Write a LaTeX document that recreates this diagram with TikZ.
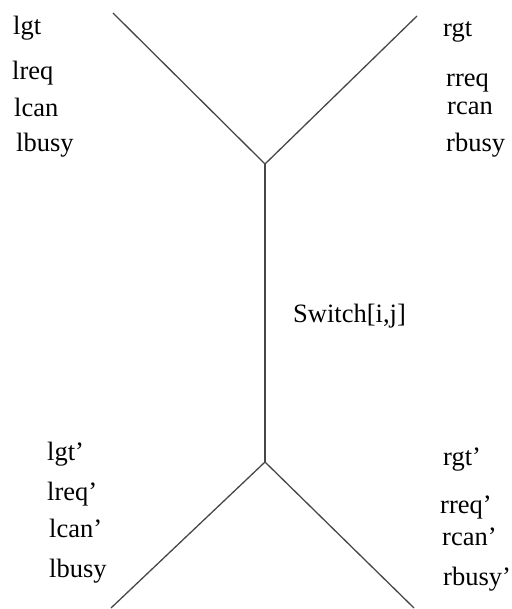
\documentclass[tikz,border=0pt]{standalone}
\usepackage{fontspec}
\setmainfont{LiberationSerif}[Extension=.ttf,UprightFont=*-Regular,Ligatures=TeX]
\begin{document}
\begin{tikzpicture}[x=1pt,y=-1pt,
  sig/.style={anchor=base west,inner sep=0pt,font=\fontsize{26.5}{30}\selectfont},
  wire/.style={draw=black!72,line width=1.3pt}]
\useasboundingbox (0,0) rectangle (511,609);
% junction points and wire ends
\coordinate (jt) at (265,164);
\coordinate (jb) at (265,462);
\coordinate (tl) at (113,13);
\coordinate (tr) at (417,16);
\coordinate (bl) at (111,608);
\coordinate (br) at (414,608);
% wires
\draw[wire] (tl) -- (jt) -- (tr);
\draw[wire] (jt) -- (jb);
\draw[wire] (bl) -- (jb) -- (br);
% upper signals
\node[sig] (lgt) at (13,35) {lgt};
\node[sig] (lreq) at (12,80) {lreq};
\node[sig] (lcan) at (14,117) {lcan};
\node[sig] (lbusy) at (16,152) {lbusy};
\node[sig] (rgt) at (443,37) {rgt};
\node[sig] (rreq) at (446,87) {rreq};
\node[sig] (rcan) at (447,115) {rcan};
\node[sig] (rbusy) at (446,152) {rbusy};
% switch label
\node[sig] (sw) at (293,322) {Switch[i,j]};
% lower signals
\node[sig] (lgt2) at (47,460) {lgt'};
\node[sig] (lreq2) at (47,500) {lreq'};
\node[sig] (lcan2) at (49,537) {lcan'};
\node[sig] (lbusy2) at (49,577) {lbusy};
\node[sig] (rgt2) at (443,465) {rgt'};
\node[sig] (rreq2) at (440,513) {rreq'};
\node[sig] (rcan2) at (442,545) {rcan'};
\node[sig] (rbusy2) at (443,585) {rbusy'};
\end{tikzpicture}
\end{document}
